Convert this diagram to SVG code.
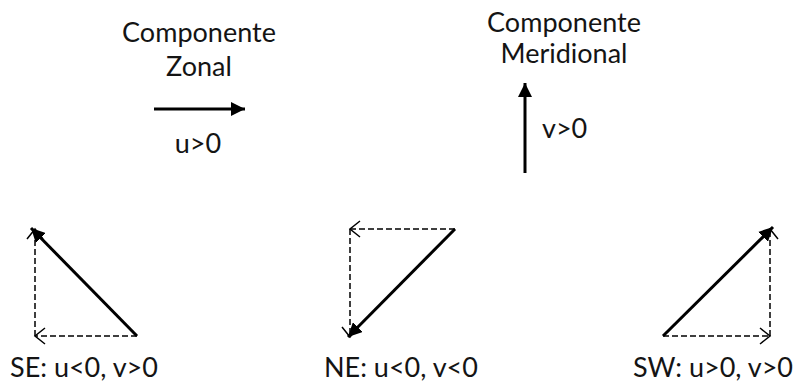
<svg xmlns="http://www.w3.org/2000/svg" width="794" height="383" viewBox="0 0 794 383">
<style>
text{font-family:Lato,"Open Sans","Liberation Sans",sans-serif;font-size:27px;fill:#141414}
.solid{stroke:#000;stroke-width:3;fill:none}
.dash{stroke:#000;stroke-width:1.5;stroke-dasharray:6 3;fill:none}
</style>
<defs>
<marker id="fa" markerUnits="userSpaceOnUse" markerWidth="16" markerHeight="14" refX="14" refY="7" orient="auto">
<path d="M0,0 L14,7 L0,14 Z" fill="#000"/>
</marker>
<marker id="oa" markerUnits="userSpaceOnUse" markerWidth="14" markerHeight="20" refX="11" refY="10" orient="auto">
<path d="M1,2 L11,10 L1,18" fill="none" stroke="#000" stroke-width="1.5"/>
</marker>
</defs>
<g id="zonal">
<text x="199" y="42" text-anchor="middle">Componente</text>
<text x="199" y="76" text-anchor="middle">Zonal</text>
<text x="198" y="153" text-anchor="middle">u&gt;0</text>
</g>
<g id="meridional">
<text x="564" y="32" text-anchor="middle">Componente</text>
<text x="564" y="63" text-anchor="middle">Meridional</text>
<text x="542" y="138">v&gt;0</text>
</g>
<g id="se">
<text x="10" y="377">SE: u&lt;0, v&gt;0</text>
</g>
<g id="ne">
<text x="324" y="377">NE: u&lt;0, v&lt;0</text>
</g>
<g id="sw">
<text x="633" y="377">SW: u&gt;0, v&gt;0</text>
</g>
<g id="connectors">
<line class="solid" x1="154" y1="109" x2="245" y2="109" marker-end="url(#fa)"/>
<line class="solid" x1="525" y1="173" x2="525" y2="83" marker-end="url(#fa)"/>
<line class="dash" x1="137" y1="336" x2="35" y2="336" marker-end="url(#oa)"/>
<line class="dash" x1="35" y1="336" x2="35" y2="229" marker-end="url(#oa)"/>
<line class="solid" x1="137" y1="336" x2="31" y2="228" marker-end="url(#fa)"/>
<line class="dash" x1="455" y1="229" x2="350" y2="229" marker-end="url(#oa)"/>
<line class="dash" x1="350" y1="229" x2="350" y2="337" marker-end="url(#oa)"/>
<line class="solid" x1="455" y1="229" x2="348" y2="337" marker-end="url(#fa)"/>
<line class="dash" x1="663" y1="336" x2="770" y2="336" marker-end="url(#oa)"/>
<line class="dash" x1="770" y1="336" x2="770" y2="229" marker-end="url(#oa)"/>
<line class="solid" x1="663" y1="336" x2="773" y2="227" marker-end="url(#fa)"/>
</g>
</svg>
